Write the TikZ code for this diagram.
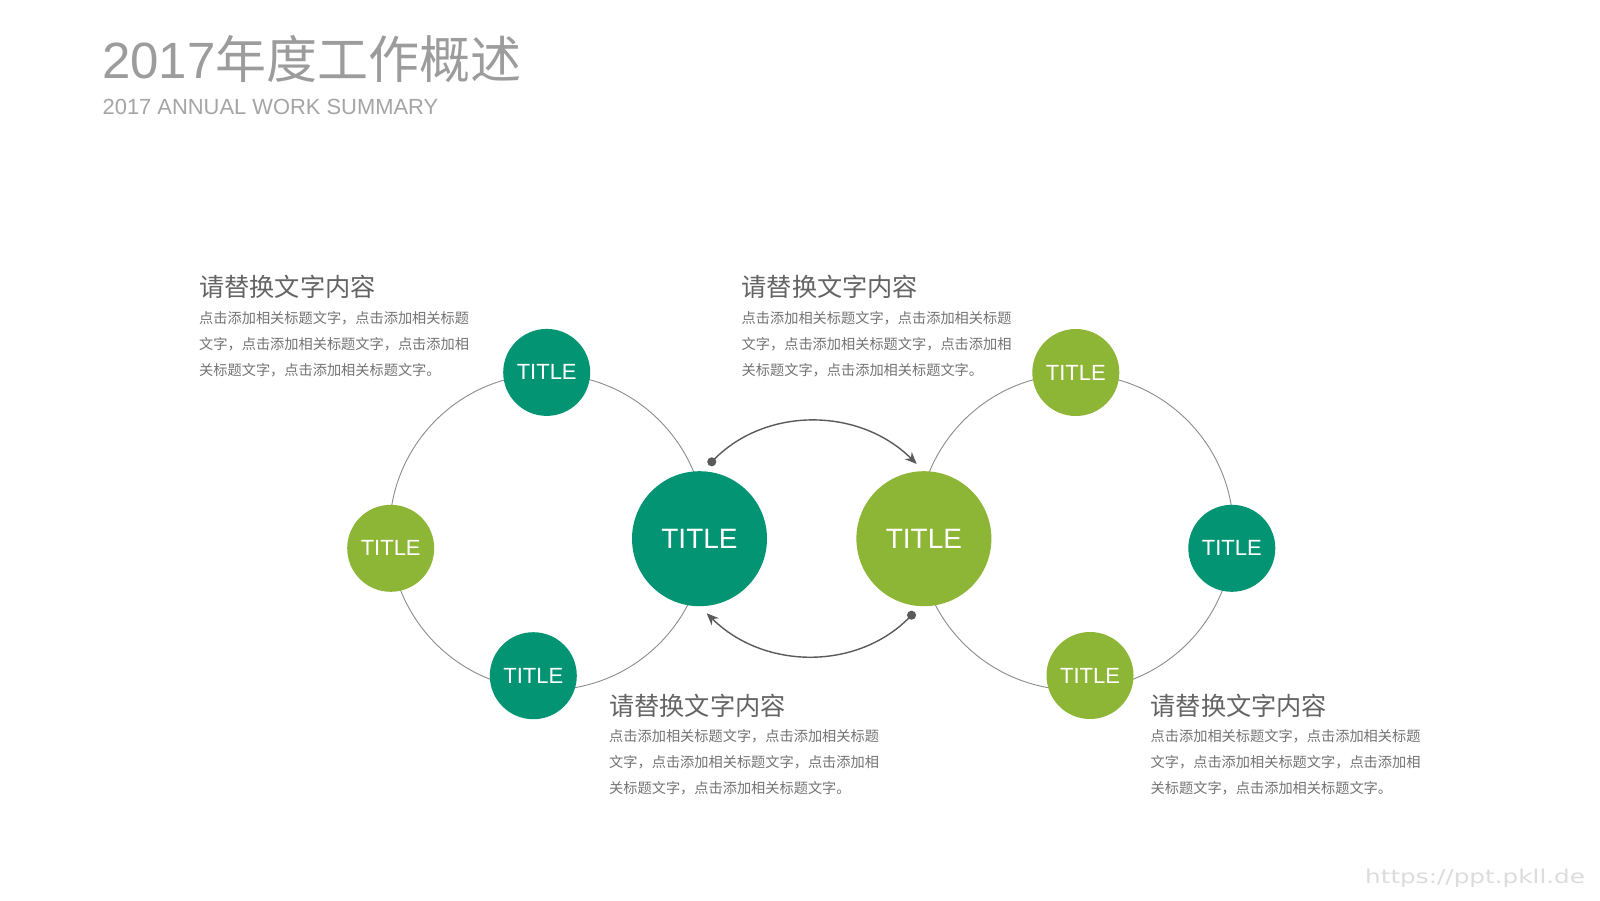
\documentclass[tikz,border=0pt]{standalone}
\usepackage{fontspec}
\setmainfont{Liberation Sans}
\newfontfamily\cjk{Noto Sans CJK SC}
\newfontfamily\wmfont[FakeStretch=1.3]{DejaVu Sans}
\usepackage{xcolor}
\usepackage{tikz}
\usetikzlibrary{positioning, arrows.meta}

\definecolor{tealgreen}{RGB}{3,148,116}
\definecolor{leafgreen}{RGB}{141,181,54}
\definecolor{ringgray}{RGB}{140,140,140}
\definecolor{arrowgray}{RGB}{90,90,90}
\definecolor{titlegray}{RGB}{156,156,156}
\definecolor{subgray}{RGB}{165,165,165}
\definecolor{headgray}{RGB}{100,100,100}
\definecolor{bodygray}{RGB}{115,115,115}
\definecolor{wmgray}{RGB}{220,220,220}

\begin{document}
\begin{tikzpicture}[x=1pt, y=1pt,
            ring/.style={circle, draw=ringgray, line width=0.9pt, minimum size=316pt, inner sep=0pt},
            petal/.style={circle, inner sep=0pt, minimum size=87pt, text=white, font=\fontsize{22}{22}\selectfont},
            hub/.style={circle, inner sep=0pt, minimum size=135pt, text=white, font=\fontsize{28}{28}\selectfont},
            head/.style={anchor=base west, inner sep=0pt, text=headgray, font=\cjk\fontsize{25.2}{30}\selectfont},
            body/.style={inner sep=0pt, align=left, text=bodygray, font=\cjk\fontsize{14.2}{26}\selectfont},
            arrow/.style={{Circle[length=9pt]}-{Stealth[length=12pt, width=10pt]}, line width=1.4pt, draw=arrowgray, bend left=45}
        ]
            \fill[white] (0,0) rectangle (1600,-900);
            \useasboundingbox (0,0) rectangle (1600,-900);

            % heading
            \node[anchor=base west, inner sep=0pt, text=titlegray, font=\fontsize{51}{52}\selectfont] (title) at (102,-78) {2017{\cjk 年度工作概述}};
            \node[anchor=base west, inner sep=0pt, text=subgray, font=\fontsize{21.9}{24}\selectfont] (subtitle) at (102.5,-114.3) {2017 ANNUAL WORK SUMMARY};

            \node[ring] (ringL) at (547.5,-532) {};
            \node[ring] (ringR) at (1075.5,-532) {};

            \node[hub, fill=tealgreen] (hubL) at (699.5,-538.7) {TITLE};
            \node[hub, fill=leafgreen, right=89pt of hubL] (hubR) {TITLE};

            \node[petal, fill=tealgreen] (topL) at (546.7,-372.4) {TITLE};
            \node[petal, fill=leafgreen] (leftL) at (390.7,-548.3) {TITLE};
            \node[petal, fill=tealgreen] (botL) at (533.3,-675.7) {TITLE};
            \node[petal, fill=leafgreen] (topR) at (1075.8,-372.5) {TITLE};
            \node[petal, fill=tealgreen] (rightR) at (1231.8,-548.3) {TITLE};
            \node[petal, fill=leafgreen] (botR) at (1090,-675.5) {TITLE};

            \coordinate (upA) at (708.6,-465);
            \coordinate (upB) at (916.7,-464);
            \coordinate (loA) at (914.7,-612);
            \coordinate (loB) at (706.7,-613.3);
            \draw[arrow] (upA) to (upB);
            \draw[arrow] (loA) to (loB);

            % text blocks
            \node[head] (headA) at (199,-296.5) {请替换文字内容};
            \node[body, below=14.5pt of headA.base west, anchor=north west] (bodyA) {点击添加相关标题文字，点击添加相关标题\\文字，点击添加相关标题文字，点击添加相\\关标题文字，点击添加相关标题文字。};
            \node[head] (headB) at (741.5,-296.5) {请替换文字内容};
            \node[body, below=14.5pt of headB.base west, anchor=north west] (bodyB) {点击添加相关标题文字，点击添加相关标题\\文字，点击添加相关标题文字，点击添加相\\关标题文字，点击添加相关标题文字。};
            \node[head] (headC) at (609,-715) {请替换文字内容};
            \node[body, below=14.5pt of headC.base west, anchor=north west] (bodyC) {点击添加相关标题文字，点击添加相关标题\\文字，点击添加相关标题文字，点击添加相\\关标题文字，点击添加相关标题文字。};
            \node[head] (headD) at (1150.5,-715) {请替换文字内容};
            \node[body, below=14.5pt of headD.base west, anchor=north west] (bodyD) {点击添加相关标题文字，点击添加相关标题\\文字，点击添加相关标题文字，点击添加相\\关标题文字，点击添加相关标题文字。};

            \node[anchor=base west, inner sep=0pt, text=wmgray, font=\wmfont\fontsize{19}{20}\selectfont] (mark) at (1365,-883) {https://ppt.pkll.de};

        \end{tikzpicture}
\end{document}
